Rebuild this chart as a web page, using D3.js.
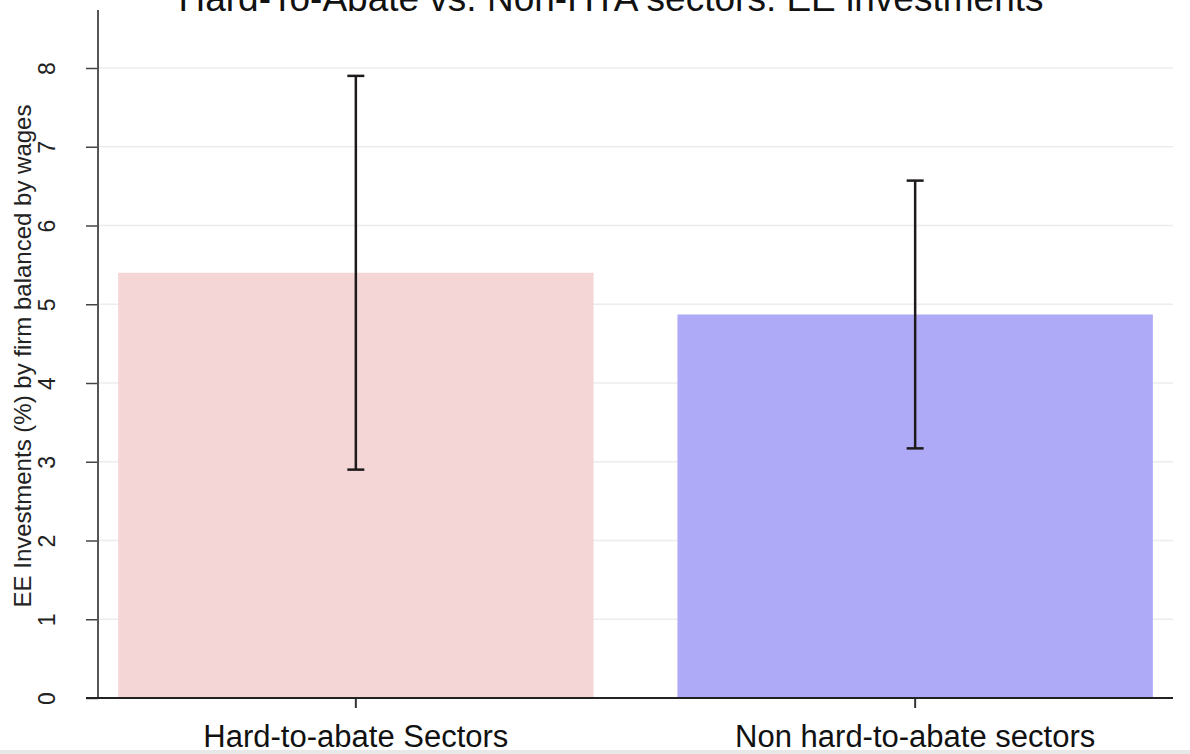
<!DOCTYPE html>
<html>
<head>
<meta charset="utf-8">
<script src="https://cdn.jsdelivr.net/npm/d3@7"></script>
<style>
  html, body { margin: 0; padding: 0; background: #fff; overflow: hidden; }
  svg { display: block; font-family: "Liberation Sans", Arial, sans-serif; }
</style>
</head>
<body>
<svg id="chart" width="1190" height="754"></svg>
<script>
// Sector groups and their mean EE investment share, with symmetric error margins
const categories = ["Hard-to-abate Sectors", "Non hard-to-abate sectors"];
const means = [5.40, 4.87];
const errors = [2.50, 1.70];
const barColors = ["#f5d6d7", "#aeaaf8"];
const yTicks = [0, 1, 2, 3, 4, 5, 6, 7, 8];

const titleText = "Hard-To-Abate vs. Non-HTA sectors: EE investments";
const yLabel = "EE Investments (%) by firm balanced by wages";

const svg = d3.select("#chart");
const W = 1190, H = 754;

const x = d3.scaleBand()
  .domain(categories)
  .range([98, 1173])
  .paddingInner(0.15)
  .paddingOuter(0.036);

const y = d3.scaleLinear()
  .domain([0, 8])
  .range([698, 68]);

// horizontal gridlines
svg.append("g")
  .selectAll("line")
  .data(yTicks.filter(d => d > 0))
  .join("line")
  .attr("x1", 99).attr("x2", 1173)
  .attr("y1", d => y(d)).attr("y2", d => y(d))
  .attr("stroke", "#ececec")
  .attr("stroke-width", 1.5);

// bars
svg.append("g")
  .selectAll("rect")
  .data(categories)
  .join("rect")
  .attr("x", d => x(d))
  .attr("width", x.bandwidth())
  .attr("y", (d, i) => y(means[i]))
  .attr("height", (d, i) => y(0) - y(means[i]))
  .attr("fill", (d, i) => barColors[i]);

// error bars
const eb = svg.append("g").attr("stroke", "#1e1a1a").attr("stroke-width", 2.5);
categories.forEach((c, i) => {
  const cx = x(c) + x.bandwidth() / 2;
  const hi = y(means[i] + errors[i]);
  const lo = y(means[i] - errors[i]);
  eb.append("line").attr("x1", cx).attr("x2", cx).attr("y1", hi).attr("y2", lo);
  eb.append("line").attr("x1", cx - 8.5).attr("x2", cx + 8.5).attr("y1", hi).attr("y2", hi);
  eb.append("line").attr("x1", cx - 8.5).attr("x2", cx + 8.5).attr("y1", lo).attr("y2", lo);
});

// y axis
const yAxis = svg.append("g")
  .attr("transform", "translate(98,0)")
  .call(d3.axisLeft(y).tickValues(yTicks).tickSize(12).tickPadding(0).tickFormat(d3.format("d")));
yAxis.select(".domain").remove();
yAxis.append("line")
  .attr("x1", 0).attr("x2", 0).attr("y1", 10).attr("y2", 699)
  .attr("stroke", "#555").attr("stroke-width", 2);
yAxis.selectAll(".tick line").attr("stroke", "#444").attr("stroke-width", 1.5);
yAxis.selectAll(".tick text")
  .attr("x", 0).attr("dy", null)
  .attr("transform", "translate(-51,0) rotate(-90)")
  .attr("text-anchor", "middle")
  .attr("dominant-baseline", "central")
  .attr("font-size", 23)
  .attr("fill", "#222");

// x axis
const xAxis = svg.append("g")
  .attr("transform", "translate(0,698)")
  .call(d3.axisBottom(x).tickSize(10).tickPadding(0));
xAxis.select(".domain").remove();
xAxis.append("line")
  .attr("x1", 86).attr("x2", 1173).attr("y1", 0).attr("y2", 0)
  .attr("stroke", "#222").attr("stroke-width", 2);
xAxis.selectAll(".tick line").attr("stroke", "#333").attr("stroke-width", 2);
xAxis.selectAll(".tick text")
  .attr("y", 49).attr("dy", null)
  .attr("font-size", 31)
  .attr("fill", "#111");

// y axis title
svg.append("text")
  .attr("transform", "translate(22,356) rotate(-90)")
  .attr("text-anchor", "middle")
  .attr("dominant-baseline", "central")
  .attr("font-size", 24)
  .attr("fill", "#222")
  .text(yLabel);

// chart title (clipped at the top edge)
svg.append("text")
  .attr("x", 611)
  .attr("y", 11)
  .attr("text-anchor", "middle")
  .attr("font-size", 37)
  .attr("fill", "#111")
  .text(titleText);

// thin grey strip along the bottom edge
svg.append("rect")
  .attr("x", 0).attr("y", 750).attr("width", W).attr("height", 4)
  .attr("fill", "#e8e8e8");
</script>
</body>
</html>
